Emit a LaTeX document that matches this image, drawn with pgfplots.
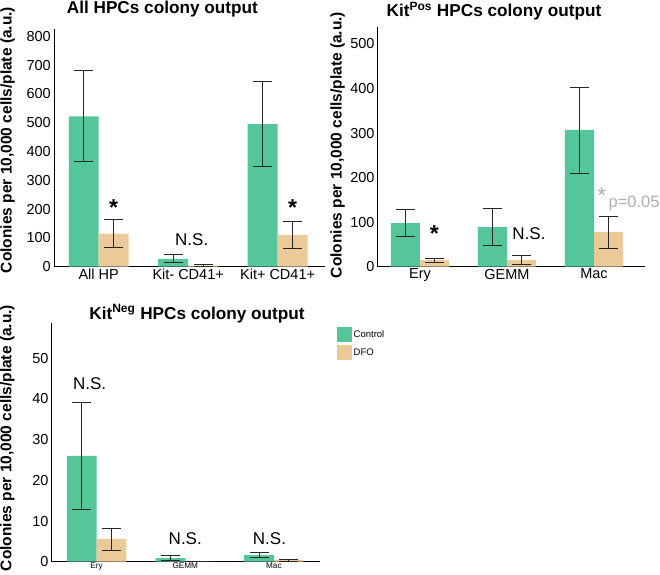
\documentclass[border=0pt]{standalone}
\usepackage{pgfplots}
\pgfplotsset{compat=1.18}
\usepackage{fontspec}
\setmainfont{Liberation Sans}
\definecolor{ctrl}{RGB}{84,198,154}
\definecolor{dfo}{RGB}{236,201,152}
\definecolor{pgrey}{RGB}{175,175,175}
\newcommand{\fs}[1]{\fontsize{#1}{#1}\selectfont}
\pgfplotsset{
  every axis title shift=0pt,
  panel/.style={
    scale only axis, anchor=south west,
    axis lines=left, axis line style={-, line width=1pt, black},
    ymin=0, ybar, bar width=0.335, bar shift=0pt,
    xtick={0,1,2}, major tick length=0pt,
    /pgf/number format/assume math mode=true,
    ticklabel style={font=\fs{14.5}},
    xticklabel style={inner sep=2pt},
    yticklabel style={inner sep=3pt},
    error bars/y dir=both, error bars/y explicit,
    error bars/error bar style={line width=0.7pt, black!85},
    error bars/error mark options={rotate=90, mark size=9.5pt, line width=0.7pt, black!85},
    title style={font=\bfseries\fs{17.2}, anchor=base},
    ylabel style={font=\bfseries\fs{15.5}, anchor=center},
    clip=false,
  },
}
\begin{document}
\begin{tikzpicture}
\useasboundingbox (0,0) rectangle (660pt,-574pt);
% ---------- Panel 1 ----------
\begin{axis}[panel, at={(54pt,-266.7pt)}, width=271pt, height=237.7pt,
  xmin=-0.5, xmax=2.53, ymax=825, ytick={0,100,...,800},
  xticklabels={All HP, Kit- CD41+, Kit+ CD41+},
  title={All HPCs colony output}, title style={at={(axis description cs:0.400,1.066)}},
  ylabel={Colonies per 10,000 cells/plate (a.u.)}, ylabel style={at={(axis description cs:-0.1716,0.533)}}]
\addplot[fill=ctrl, draw=none] table[x=x, y=y, y error plus=ep, y error minus=em] {
x y ep em
-0.1675 522 160 157
0.8325 27 15 12
1.8325 495 147 148
};
\addplot[fill=dfo, draw=none] table[x=x, y=y, y error plus=ep, y error minus=em] {
x y ep em
0.1675 115 48 48
1.1675 4 4 3
2.1675 110 47 48
};
\node[font=\bfseries\fs{23}, anchor=base] at (axis cs:0.1675,178) {*};
\node[font=\bfseries\fs{23}, anchor=base] at (axis cs:2.1675,178) {*};
\node[font=\fs{17}] at (axis cs:1.04,93) {N.S.};
\end{axis}
% ---------- Panel 2 ----------
\begin{axis}[panel, at={(377.7pt,-266.7pt)}, width=267.3pt, height=239.7pt,
  xmin=-0.486, xmax=2.586, ymax=538, ytick={0,100,...,500},
  xticklabels={Ery, GEMM, Mac},
  title={Kit\textsuperscript{Pos} HPCs colony output}, title style={at={(axis description cs:0.435,1.043)}},
  ylabel={Colonies per 10,000 cells/plate (a.u.)}, ylabel style={at={(axis description cs:-0.150,0.508)}}]
\addplot[fill=ctrl, draw=none] table[x=x, y=y, y error plus=ep, y error minus=em] {
x y ep em
-0.1675 98 31 30
0.8325 89 41 41
1.8325 307 96 97
};
\addplot[fill=dfo, draw=none] table[x=x, y=y, y error plus=ep, y error minus=em] {
x y ep em
0.1675 15 4 5
1.1675 15 10.5 9.6
2.1675 78 35 37
};
\node[font=\bfseries\fs{23}, anchor=base] at (axis cs:0.164,57) {*};
\node[font=\fs{17}] at (axis cs:1.253,74) {N.S.};
\node[font=\fs{23}, text=pgrey, anchor=base] at (axis cs:2.089,142) {*};
\node[font=\fs{16.5}, text=pgrey, anchor=west, inner sep=0pt] at (axis cs:2.165,141) {p=0.05};
\end{axis}
% ---------- Panel 3 ----------
\begin{axis}[panel, at={(51.7pt,-561.7pt)}, width=268.3pt, height=238.4pt,
  xmin=-0.507, xmax=2.52, ymax=58.6, ytick={0,10,...,50},
  xticklabels={Ery, GEMM, Mac}, xticklabel style={font=\fs{8.2}, inner sep=1pt},
  title={Kit\textsuperscript{Neg} HPCs colony output}, title style={at={(axis description cs:0.5416,1.017)}},
  ylabel={Colonies per 10,000 cells/plate (a.u.)}, ylabel style={at={(axis description cs:-0.165,0.519)}},
  legend style={at={(axis description cs:1.0634,0.9836)}, anchor=north west, draw=none, fill=none,
    font=\fs{9.5}, row sep=3pt, inner sep=0pt, nodes={inner sep=1.5pt}},
  legend cell align=left,
  legend image code/.code={\fill[#1] (0pt,-7.5pt) rectangle (15pt,7.5pt);}]
\addplot[fill=ctrl, draw=none] table[x=x, y=y, y error plus=ep, y error minus=em] {
x y ep em
-0.1675 26 13.2 13.1
0.8325 0.9 0.6 0.6
1.8325 1.6 0.7 0.6
};
\addplot[fill=dfo, draw=none] table[x=x, y=y, y error plus=ep, y error minus=em] {
x y ep em
0.1675 5.6 2.7 2.7
1.1675 0 0 0
2.1675 0.4 0.3 0.3
};
\legend{Control, DFO}
\node[font=\fs{17}] at (axis cs:-0.079,43.7) {N.S.};
\node[font=\fs{17}] at (axis cs:1.0,5.65) {N.S.};
\node[font=\fs{17}] at (axis cs:1.95,5.65) {N.S.};
\end{axis}
\end{tikzpicture}
\end{document}
